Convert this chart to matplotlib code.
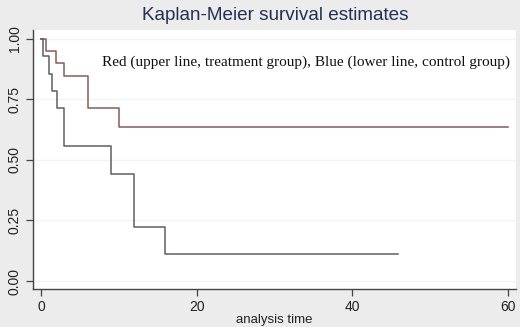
import matplotlib
matplotlib.use("Agg")
import matplotlib.pyplot as plt

# Kaplan-Meier step data
treat_time = [0, 0.65, 1.9, 3.0, 6.1, 10.0, 60.0]
treat_surv = [1.0, 0.95, 0.90, 0.845, 0.714, 0.635, 0.635]

control_time = [0, 0.3, 1.0, 1.4, 2.0, 3.0, 9.0, 12.0, 16.0, 45.9]
control_surv = [1.0, 0.929, 0.857, 0.786, 0.714, 0.556, 0.444, 0.222, 0.111, 0.111]

x_ticks = [0, 20, 40, 60]
y_ticks = [0.0, 0.25, 0.5, 0.75, 1.0]
y_labels = ["0.00", "0.25", "0.50", "0.75", "1.00"]


def main():
    plt.rcParams['font.family'] = ['Liberation Sans', 'DejaVu Sans']
    fig = plt.figure(figsize=(5.2, 3.27), dpi=100)
    fig.patch.set_facecolor('#ececec')

    ax = fig.add_axes([33 / 520, 38 / 327, 483 / 520, 259 / 327])
    ax.set_facecolor('white')

    ax.step(treat_time, treat_surv, where='post', color='#8a5a5a', lw=1.1)
    ax.step(control_time, control_surv, where='post', color='#5c5f66', lw=1.1)

    ax.set_xlim(-1.03, 61.05)
    ax.set_ylim(-0.033, 1.037)
    ax.set_xticks(x_ticks)
    ax.set_yticks(y_ticks)
    ax.set_yticklabels(y_labels, rotation=90, va='center')
    ax.yaxis.grid(True, color='#f2f4f4', lw=1.0)
    ax.set_axisbelow(True)

    for s in ['top', 'right']:
        ax.spines[s].set_visible(False)
    for s in ['left', 'bottom']:
        ax.spines[s].set_color('#444444')
        ax.spines[s].set_linewidth(1.0)
    ax.tick_params(axis='both', length=5, width=0.9, color='#444444',
                   labelsize=10, labelcolor='#222222', pad=3)

    ax.set_xlabel('analysis time', fontsize=9.5, color='#222222', labelpad=0)
    ax.xaxis.set_label_coords(0.5, -0.095)

    fig.text(275 / 520, 1 - 15 / 327, 'Kaplan-Meier survival estimates',
             ha='center', va='center', fontsize=13.6, color='#262f52')

    ax.text(102 / 520, 1 - 62 / 327,
            'Red (upper line, treatment group), Blue (lower line, control group)',
            transform=fig.transFigure, fontsize=11, family='Liberation Serif',
            color='#111111', va='center', ha='left')

    fig.savefig('out.png', dpi=100, facecolor=fig.get_facecolor())


if __name__ == "__main__":
    main()
